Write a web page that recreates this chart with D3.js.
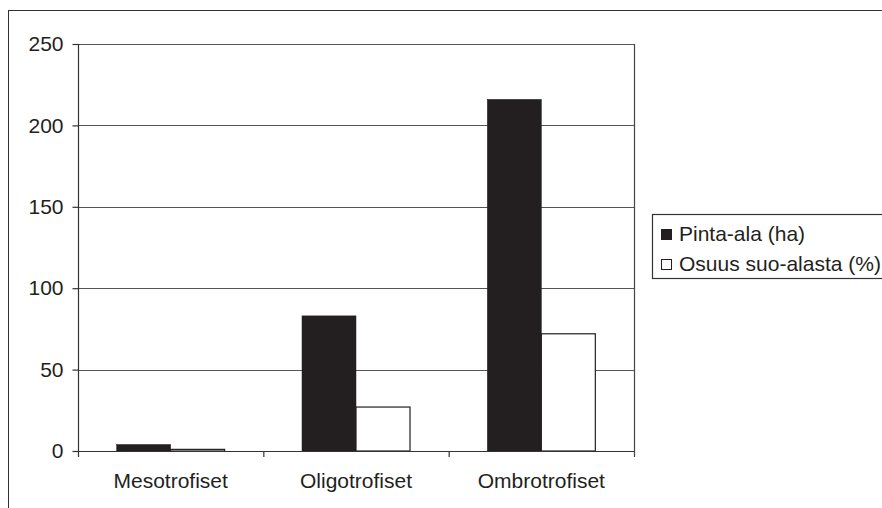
<!DOCTYPE html>
<html><head><meta charset="utf-8">
<script src="https://cdn.jsdelivr.net/npm/d3@7"></script>
<style>body{margin:0;background:#fff}svg{display:block}text{font-family:"Liberation Sans",Arial,sans-serif;fill:#231f20}</style>
</head><body>
<script>
const categories = ["Mesotrofiset", "Oligotrofiset", "Ombrotrofiset"];
const seriesNames = ["Pinta-ala (ha)", "Osuus suo-alasta (%)"];
const pintaAla = [4, 83, 216];
const osuus = [1, 27, 72];
const yTicks = [0, 50, 100, 150, 200, 250];

const W = 882, H = 508;
const m = {left: 78, right: 634, top: 44, bottom: 451};
const FS = 21;
const svg = d3.select("body").append("svg").attr("width", W).attr("height", H);

// outer frame
svg.append("line").attr("x1", 8).attr("x2", W).attr("y1", 10.5).attr("y2", 10.5).attr("stroke", "#333").attr("stroke-width", 1);
svg.append("line").attr("x1", 8.5).attr("x2", 8.5).attr("y1", 10).attr("y2", H).attr("stroke", "#333").attr("stroke-width", 1);

const x = d3.scaleBand().domain(categories).range([m.left, m.right]);
const y = d3.scaleLinear().domain([0, 250]).range([m.bottom, m.top]);
const xs = d3.scaleBand().domain(seriesNames).range([0, x.bandwidth()]).paddingInner(0).paddingOuter(0.716);

// gridlines
svg.append("g").selectAll("line").data(yTicks.filter(d => d > 0)).join("line")
  .attr("x1", m.left).attr("x2", m.right)
  .attr("y1", d => Math.round(y(d)) + 0.5).attr("y2", d => Math.round(y(d)) + 0.5)
  .attr("stroke", "#555").attr("stroke-width", 1.2);

// right border
svg.append("line").attr("x1", m.right + 0.5).attr("x2", m.right + 0.5).attr("y1", m.top).attr("y2", m.bottom + 6).attr("stroke", "#444").attr("stroke-width", 1.2);

const data = categories.map((c, i) => ({c, vals: [pintaAla[i], osuus[i]]}));
const g = svg.append("g").selectAll("g").data(data).join("g").attr("transform", d => `translate(${x(d.c)},0)`);
g.selectAll("rect").data(d => d.vals.map((v, j) => ({v, s: seriesNames[j], j}))).join("rect")
  .attr("x", d => xs(d.s)).attr("width", xs.bandwidth())
  .attr("y", d => y(d.v)).attr("height", d => y(0) - y(d.v))
  .attr("fill", d => d.j === 0 ? "#231f20" : "#fff")
  .attr("stroke", "#231f20").attr("stroke-width", d => d.j === 0 ? 0.5 : 1.2);

// y axis
const yAxis = svg.append("g").attr("transform", `translate(${m.left + 0.5},0)`)
  .call(d3.axisLeft(y).tickValues(yTicks).tickSize(6).tickPadding(9));
yAxis.selectAll("line,path").attr("stroke", "#333").attr("stroke-width", 1.2);
yAxis.select(".domain").attr("d", `M0,${m.top}V${m.bottom}`);
yAxis.selectAll("text").attr("font-size", FS).attr("font-family", '"Liberation Sans",Arial,sans-serif').attr("fill", "#231f20");

// x axis
const xAxis = svg.append("g").attr("transform", `translate(0,${m.bottom + 0.5})`)
  .call(d3.axisBottom(x).tickSize(0).tickPadding(22));
xAxis.select(".domain").attr("d", `M${m.left},0H${m.right}`).attr("stroke", "#333").attr("stroke-width", 1.2);
xAxis.selectAll("text").attr("font-size", FS).attr("font-family", '"Liberation Sans",Arial,sans-serif').attr("fill", "#231f20");
// category boundary ticks
svg.append("g").selectAll("line").data(categories).join("line")
  .attr("x1", d => x(d) + 0.5).attr("x2", d => x(d) + 0.5)
  .attr("y1", m.bottom).attr("y2", m.bottom + 6).attr("stroke", "#333").attr("stroke-width", 1.2);

// legend
const lg = svg.append("g").attr("transform", "translate(652,214)");
lg.append("rect").attr("x", 0.5).attr("y", 0.5).attr("width", 240).attr("height", 64).attr("fill", "#fff").attr("stroke", "#333").attr("stroke-width", 1.2);
seriesNames.forEach((s, i) => {
  lg.append("rect").attr("x", 9.5).attr("y", 15.5 + i * 30).attr("width", 10).attr("height", 10)
    .attr("fill", i === 0 ? "#231f20" : "#fff").attr("stroke", "#231f20").attr("stroke-width", 1);
  lg.append("text").attr("x", 27).attr("y", 27 + i * 30).attr("font-size", FS).text(s);
});
</script>
</body></html>
